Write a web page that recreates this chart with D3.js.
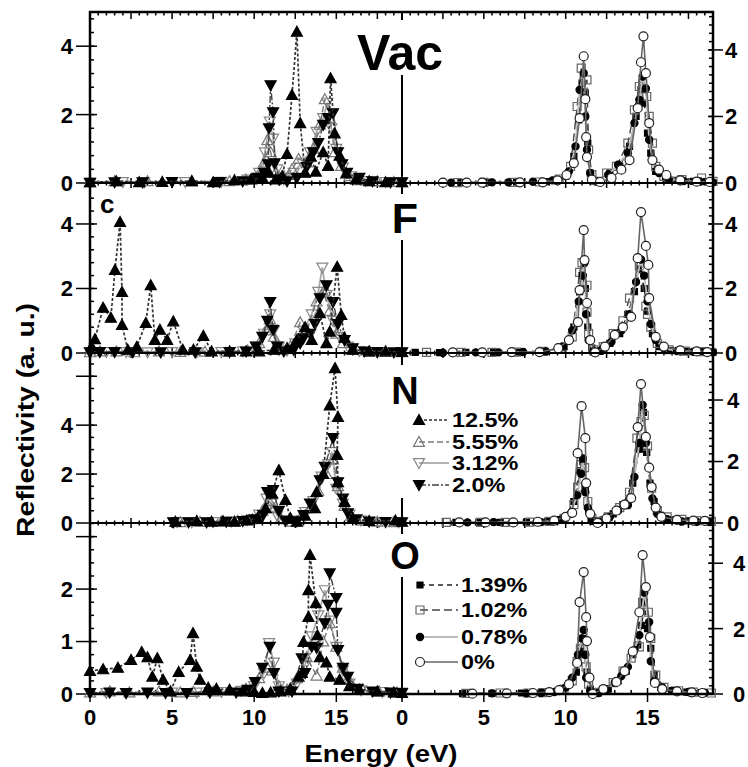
<!DOCTYPE html>
<html>
<head>
<meta charset="utf-8">
<script src="https://cdn.jsdelivr.net/npm/d3@7"></script>
<style>
  body { margin: 0; background: #fff; }
  svg text { font-family: "Liberation Sans", Arial, sans-serif; font-weight: bold; }
</style>
</head>
<body>
<div class="mainVis"></div>
<script>
// ---- data ----
var panelNames = ["Vac", "F", "N", "O"];
var leftLabels = ["12.5%", "5.55%", "3.12%", "2.0%"];
var rightLabels = ["1.39%", "1.02%", "0.78%", "0%"];
var energyTicks = [0, 5, 10, 15];
var leftMax = [5.0, 5.27, 6.95, 3.26];
var rightMax = [5.14, 5.27, 5.53, 5.23];
var leftTicks = [[0, 2, 4], [0, 2, 4], [0, 2, 4, 6], [0, 1, 2, 3]];
var leftTickLabels = [[0, 2, 4], [0, 2, 4], [0, 2, 4], [0, 1, 2]];
var rightTicks = [[0, 2, 4], [0, 2, 4], [0, 2, 4], [0, 2, 4]];

// Vac
var vac125 = [[0,0.02],[1.6,0.05],[3.0,0.02],[4.4,0.03],[6.2,0.06],[7.5,0.02],[8.8,0.08],[9.8,0.1],[10.5,0.15],[10.9,0.3],[11.3,0.1],[11.7,0.2],[12.0,0.85],[12.3,2.57],[12.6,4.42],[12.8,1.75],[13.1,0.3],[13.45,0.77],[13.75,0.33],[14.2,0.9],[14.5,0.5],[14.65,3.06],[14.9,1.45],[15.2,0.8],[15.6,0.28],[16.2,0.1],[17.0,0.05],[18.0,0.02],[19.0,0.02]];
var vac555 = [[0,0.02],[1.5,0.05],[3.5,0.05],[6.2,0.04],[8.5,0.05],[9.5,0.1],[10.2,0.2],[10.6,0.6],[10.8,1.25],[11.0,0.9],[11.3,0.3],[11.8,0.2],[12.3,0.4],[12.7,0.7],[13.2,0.6],[13.6,1.0],[14.0,1.7],[14.3,2.45],[14.6,1.9],[14.9,0.9],[15.3,0.5],[15.8,0.2],[16.5,0.08],[17.5,0.05],[18.5,0.03],[19.0,0.02]];
var vac312 = [[0,0.02],[2.0,0.03],[3.3,0.02],[5.8,0.03],[8.0,0.04],[9.6,0.1],[10.3,0.3],[10.65,0.9],[10.95,1.8],[11.15,1.3],[11.4,0.4],[11.8,0.1],[12.4,0.3],[12.9,0.6],[13.4,0.9],[13.8,1.5],[14.2,1.9],[14.45,2.35],[14.7,1.6],[15.0,1.0],[15.4,0.45],[15.9,0.2],[16.8,0.06],[18.0,0.03],[19.0,0.02]];
var vac20 = [[0,0],[1.5,0.02],[3.2,0.02],[5.0,0.03],[7.9,0.03],[9.3,0.05],[10.2,0.15],[10.6,0.3],[10.85,0.55],[10.9,1.6],[11.0,2.86],[11.15,2.07],[11.25,0.58],[11.55,0.1],[12.0,0.05],[12.6,0.15],[13.2,0.47],[13.6,0.9],[13.9,1.17],[14.2,1.7],[14.5,1.9],[14.8,2.04],[15.1,0.9],[15.35,0.55],[15.65,0.3],[16.4,0.15],[17.2,0.05],[18.3,0.02],[19.0,0.02]];
var vac139 = [[3.6,0.01],[5.3,0.02],[7.0,0.03],[8.8,0.04],[10.0,0.2],[10.5,0.8],[10.8,1.9],[11.0,3.0],[11.2,2.7],[11.35,1.2],[11.5,0.3],[11.9,0.05],[12.7,0.3],[13.3,0.5],[13.9,1.1],[14.3,2.0],[14.6,2.8],[14.8,2.4],[15.0,1.5],[15.2,0.9],[15.5,0.35],[16.1,0.15],[16.8,0.08],[17.8,0.05],[18.6,0.04]];
var vac102 = [[3.4,0.01],[5.0,0.02],[6.8,0.02],[8.4,0.03],[9.6,0.12],[10.3,0.5],[10.7,2.3],[10.95,3.45],[11.1,2.7],[11.3,3.1],[11.4,1.0],[11.6,0.25],[12.0,0.05],[12.5,0.3],[13.1,0.5],[13.8,1.2],[14.2,2.2],[14.5,2.9],[14.7,3.0],[14.95,2.6],[15.1,2.0],[15.3,1.2],[15.5,0.5],[16.0,0.2],[17.1,0.1],[18.3,0.15],[19.0,0.05]];
var vac078 = [[3.0,0.01],[5.5,0.02],[6.5,0.02],[8.0,0.04],[9.2,0.08],[10.2,0.35],[10.6,1.1],[10.85,2.8],[11.1,3.3],[11.2,2.0],[11.3,1.0],[11.5,0.3],[12.0,0.05],[12.6,0.25],[13.2,0.55],[13.8,0.9],[14.2,1.8],[14.5,2.5],[14.7,3.2],[14.9,2.84],[15.1,1.3],[15.3,0.7],[15.7,0.3],[16.3,0.12],[17.2,0.06],[18.2,0.04],[19.0,0.02]];
var vac0 = [[2.5,0.01],[3.95,0.01],[4.9,0.01],[7.2,0.02],[8.6,0.02],[9.5,0.08],[10.05,0.24],[10.5,0.6],[10.85,1.95],[11.1,3.81],[11.2,2.52],[11.25,1.38],[11.3,0.78],[11.6,0.1],[12.1,0.03],[12.8,0.15],[13.4,0.4],[13.9,0.69],[14.4,2.25],[14.6,3.63],[14.75,4.41],[14.9,3.3],[15.1,1.8],[15.3,0.69],[15.7,0.4],[16.15,0.24],[17.0,0.08],[18.0,0.04],[18.8,0.03]];

// F
var f125 = [[0.1,0.2],[0.3,0.43],[0.8,1.4],[1.27,1.09],[1.52,2.57],[1.83,4.06],[1.95,1.89],[1.95,0.87],[2.3,0.1],[2.85,0.19],[3.4,0.93],[3.7,2.1],[3.95,0.4],[4.26,0.72],[4.7,0.4],[5.07,0.98],[5.65,0.1],[6.3,0.1],[6.9,0.53],[7.4,0.05],[8.5,0.05],[9.5,0.05],[10.3,0.05],[11.2,0.1],[12.0,0.15],[12.6,0.4],[13.1,0.8],[13.5,0.4],[14.0,1.23],[14.4,0.3],[14.6,0.66],[15.05,2.67],[15.3,1.18],[15.5,0.47],[16.0,0.1],[17.0,0.05],[18.0,0.05],[19.0,0.03]];
var f555 = [[0,0.02],[0.6,0.05],[1.6,0.05],[2.7,0.02],[4.2,0.05],[5.5,0.03],[7.0,0.04],[8.5,0.04],[9.6,0.08],[10.3,0.3],[10.7,0.7],[10.95,1.05],[11.2,0.5],[11.6,0.1],[12.2,0.2],[12.8,0.95],[13.2,0.7],[13.8,1.6],[14.2,1.9],[14.6,1.3],[15.0,0.6],[15.4,0.3],[16.0,0.1],[17.0,0.04],[18.0,0.03],[19.0,0.02]];
var f312 = [[0,0.02],[1.0,0.03],[2.2,0.03],[3.5,0.02],[5.0,0.03],[6.5,0.02],[8.0,0.03],[9.3,0.05],[10.2,0.2],[10.6,0.6],[10.97,1.2],[11.2,0.7],[11.5,0.2],[12.0,0.08],[12.5,0.3],[13.0,0.7],[13.5,1.2],[13.9,1.9],[14.15,2.65],[14.4,1.8],[14.8,1.0],[15.2,0.5],[15.7,0.2],[16.4,0.06],[17.5,0.03],[19.0,0.02]];
var f20 = [[0,0.02],[0.6,0.03],[1.5,0.03],[2.6,0.02],[4.3,0.02],[6.4,0.02],[8.5,0.03],[9.5,0.05],[10.1,0.2],[10.5,0.5],[10.8,1.0],[10.97,1.58],[11.15,0.72],[11.4,0.2],[11.8,0.05],[12.4,0.1],[12.8,0.3],[13.0,0.46],[13.4,0.6],[13.7,0.9],[14.0,1.7],[14.4,2.1],[14.8,1.58],[15.1,0.9],[15.5,0.4],[16.0,0.15],[16.7,0.05],[17.5,0.03],[18.5,0.02],[19.0,0.02]];
var f139 = [[0.8,0.02],[2.3,0.01],[3.9,0.02],[5.6,0.02],[7.2,0.03],[8.7,0.04],[9.9,0.2],[10.5,0.8],[10.85,1.9],[11.0,2.4],[11.2,2.0],[11.35,0.8],[11.6,0.15],[12.1,0.05],[12.7,0.3],[13.3,0.6],[13.8,1.2],[14.2,1.9],[14.55,2.6],[14.8,2.0],[15.0,1.3],[15.3,0.6],[15.7,0.2],[16.4,0.08],[17.4,0.05],[18.4,0.04],[19.0,0.03]];
var f102 = [[1.5,0.02],[3.6,0.02],[5.5,0.02],[7.0,0.03],[8.6,0.05],[9.7,0.15],[10.4,0.5],[10.85,2.5],[11.0,2.8],[11.3,2.1],[11.3,1.27],[11.4,0.6],[11.7,0.1],[12.3,0.2],[12.9,0.6],[13.5,1.0],[13.9,1.7],[14.5,2.7],[14.9,1.45],[15.0,1.2],[15.2,0.8],[15.6,0.3],[16.3,0.1],[17.3,0.06],[18.3,0.04]];
var f078 = [[2.5,0.01],[4.5,0.02],[5.9,0.02],[7.4,0.03],[8.8,0.05],[9.8,0.2],[10.4,0.7],[10.8,1.6],[11.05,2.4],[11.15,2.8],[11.25,1.2],[11.4,0.4],[11.7,0.05],[12.2,0.1],[12.8,0.35],[13.4,0.7],[13.9,1.2],[14.3,2.2],[14.6,2.9],[14.8,2.4],[15.0,1.6],[15.2,0.9],[15.5,0.4],[16.0,0.15],[16.8,0.06],[17.8,0.04],[19.0,0.02]];
var f0 = [[3.1,0.02],[4.9,0.02],[6.7,0.03],[8.4,0.03],[9.55,0.15],[10.2,0.4],[10.75,0.96],[10.85,1.95],[11.1,3.81],[11.15,2.88],[11.3,1.55],[11.5,0.4],[11.8,0.02],[12.4,0.2],[13.0,0.56],[13.5,0.8],[14.0,1.12],[14.4,2.94],[14.6,4.37],[14.9,3.32],[15.05,2.73],[15.1,1.7],[15.5,0.5],[16.0,0.2],[17.0,0.08],[18.0,0.05],[18.65,0.03]];

// N
var n125 = [[5.2,0.05],[6.5,0.08],[7.4,0.05],[8.1,0.07],[8.8,0.05],[9.55,0.1],[10.2,0.2],[10.7,0.6],[11.1,1.2],[11.5,2.16],[11.9,0.94],[12.2,0.2],[12.6,0.05],[13.1,0.3],[13.7,0.6],[13.8,1.27],[14.2,2.0],[14.6,4.8],[14.92,6.33],[15.1,4.33],[15.05,2.78],[15.1,1.67],[15.5,0.86],[16.0,0.2],[17.0,0.08],[18.6,0.1],[19.0,0.05]];
var n555 = [[5.5,0.03],[6.7,0.04],[8.0,0.05],[9.0,0.08],[9.9,0.15],[10.5,0.5],[10.9,0.9],[11.2,0.6],[11.6,0.15],[12.2,0.05],[12.8,0.2],[13.4,0.6],[13.9,1.3],[14.4,2.0],[14.8,2.6],[15.1,1.5],[15.5,0.7],[15.9,0.3],[16.6,0.1],[17.5,0.05],[18.5,0.03]];
var n312 = [[5.3,0.04],[6.2,0.03],[7.5,0.04],[8.6,0.06],[9.6,0.12],[10.3,0.35],[10.75,1.0],[11.05,0.8],[11.4,0.3],[11.9,0.07],[12.5,0.1],[13.1,0.45],[13.6,0.9],[14.1,1.9],[14.5,2.4],[14.75,2.9],[15.0,1.4],[15.4,0.8],[15.8,0.35],[16.5,0.1],[17.6,0.04],[18.8,0.03]];
var n20 = [[5.07,0.03],[6.0,0.03],[7.1,0.03],[8.3,0.05],[9.3,0.08],[10.0,0.15],[10.55,0.33],[10.8,1.27],[11.15,1.35],[11.5,0.5],[11.9,0.1],[12.6,0.07],[13.0,0.33],[13.4,0.8],[14.0,1.75],[14.3,2.3],[14.8,3.47],[15.1,1.67],[15.4,1.0],[15.7,0.4],[16.2,0.15],[17.0,0.06],[18.0,0.04],[19.0,0.03]];
var n139 = [[3.3,0.02],[4.7,0.03],[6.0,0.02],[7.6,0.03],[8.9,0.05],[9.9,0.15],[10.5,0.7],[10.85,1.7],[11.05,2.0],[11.2,1.2],[11.4,0.4],[11.7,0.05],[12.3,0.1],[12.9,0.3],[13.5,0.6],[14.1,1.3],[14.5,2.4],[14.75,3.6],[14.95,2.3],[15.15,1.3],[15.4,0.7],[15.8,0.25],[16.5,0.1],[17.5,0.07],[18.7,0.04]];
var n102 = [[2.7,0.02],[4.8,0.02],[6.3,0.02],[7.8,0.03],[9.0,0.05],[9.9,0.15],[10.5,0.6],[10.73,1.17],[10.95,1.9],[11.15,1.8],[11.35,0.7],[11.6,0.15],[12.0,0.05],[12.6,0.2],[13.3,0.5],[13.9,1.0],[14.35,2.76],[14.6,3.3],[14.8,3.5],[15.0,2.5],[15.25,1.13],[15.6,0.4],[16.2,0.2],[17.1,0.12],[18.0,0.08],[18.9,0.05]];
var n078 = [[4.0,0.02],[5.6,0.03],[6.8,0.02],[8.5,0.03],[9.6,0.1],[10.3,0.3],[10.7,0.9],[10.95,1.6],[11.05,2.1],[11.2,1.0],[11.35,0.5],[11.6,0.1],[12.1,0.03],[12.7,0.2],[13.2,0.4],[13.8,0.58],[14.2,1.5],[14.5,2.6],[14.7,3.84],[14.9,2.6],[15.1,1.8],[15.3,0.8],[15.6,0.3],[16.2,0.12],[17.1,0.05],[18.0,0.04],[18.8,0.03]];
var n0 = [[3.5,0.02],[5.1,0.02],[6.8,0.02],[8.3,0.04],[9.3,0.08],[10.0,0.2],[10.4,0.33],[10.73,2.27],[10.97,3.8],[11.2,2.76],[11.25,1.3],[11.5,0.3],[11.95,0.0],[12.5,0.15],[13.1,0.4],[13.6,0.6],[14.0,0.81],[14.4,3.12],[14.6,4.52],[14.9,2.8],[15.1,1.8],[15.25,1.17],[15.5,0.5],[15.85,0.2],[16.8,0.1],[17.8,0.08],[18.5,0.07]];

// O
var o125 = [[0,0.44],[0.8,0.47],[1.7,0.5],[2.5,0.65],[3.15,0.8],[3.5,0.7],[3.8,0.33],[4.1,0.68],[4.45,0.27],[4.9,0.05],[5.4,0.42],[6.1,0.65],[6.27,1.16],[6.5,0.52],[6.7,0.27],[7.2,0.12],[7.7,0.1],[8.5,0.08],[9.3,0.05],[10.0,0.04],[10.5,0.02],[11.0,0.03],[11.6,0.05],[12.2,0.1],[12.7,0.33],[12.9,0.4],[13.0,0.99],[13.3,1.47],[13.3,1.98],[13.4,2.65],[13.75,1.73],[13.85,1.12],[14.0,0.7],[14.4,0.6],[14.6,0.33],[15.2,0.27],[15.8,0.15],[16.4,0.08],[17.5,0.05],[18.5,0.03],[19.0,0.02]];
var o555 = [[0,0.03],[1.2,0.05],[2.4,0.03],[4.2,0.05],[5.5,0.03],[6.3,0.04],[7.5,0.05],[8.5,0.06],[9.5,0.1],[10.3,0.3],[10.8,0.5],[11.1,0.45],[11.5,0.15],[12.0,0.08],[12.6,0.3],[13.2,0.7],[13.8,0.35],[14.2,1.0],[14.6,1.35],[15.0,0.9],[15.4,0.5],[15.9,0.2],[16.6,0.08],[17.6,0.05],[18.7,0.03]];
var o312 = [[0,0.02],[1.0,0.02],[2.2,0.02],[3.5,0.02],[5.0,0.03],[6.5,0.03],[8.0,0.04],[9.2,0.06],[10.0,0.15],[10.6,0.4],[10.9,0.97],[11.2,0.6],[11.5,0.15],[12.1,0.05],[12.6,0.2],[13.1,0.55],[13.5,1.1],[13.9,1.5],[14.3,1.98],[14.6,1.4],[15.0,0.9],[15.4,0.45],[15.8,0.2],[16.5,0.07],[17.8,0.04],[19.0,0.03]];
var o20 = [[0,0.02],[1.2,0.03],[2.2,0.02],[3.5,0.03],[4.6,0.02],[5.9,0.02],[7.3,0.03],[8.9,0.03],[9.6,0.08],[10.05,0.23],[10.5,0.5],[10.95,0.9],[11.2,0.4],[11.5,0.05],[12.3,0.05],[12.9,0.68],[13.1,0.4],[13.5,0.9],[13.8,0.88],[14.3,1.35],[14.5,1.7],[14.6,2.3],[15.0,1.83],[15.0,1.55],[15.1,0.84],[15.4,0.5],[15.7,0.33],[16.3,0.1],[17.2,0.05],[18.3,0.03],[19.0,0.02]];
var o139 = [[3.7,0.01],[5.5,0.02],[7.3,0.03],[8.5,0.04],[9.5,0.08],[10.2,0.3],[10.65,0.67],[10.9,1.3],[11.05,1.7],[11.2,1.2],[11.3,0.67],[11.5,0.15],[12.0,0.03],[12.6,0.15],[13.2,0.4],[13.7,0.7],[14.1,1.2],[14.4,1.5],[14.65,2.1],[14.8,2.8],[15.0,2.0],[15.2,1.4],[15.4,0.6],[15.8,0.2],[16.5,0.1],[17.4,0.06],[18.3,0.04]];
var o102 = [[3.9,0.02],[6.0,0.03],[7.7,0.03],[8.6,0.04],[9.9,0.15],[10.4,0.4],[10.7,1.0],[10.9,1.4],[11.0,1.6],[11.25,0.83],[11.4,0.3],[11.7,0.05],[12.3,0.12],[12.9,0.35],[13.5,0.7],[14.0,1.1],[14.5,1.44],[14.7,2.8],[15.05,2.5],[15.2,1.7],[15.5,0.58],[16.0,0.2],[16.9,0.1],[17.8,0.06],[18.9,0.03]];
var o078 = [[5.5,0.02],[7.6,0.02],[8.5,0.03],[9.3,0.06],[10.0,0.2],[10.4,0.5],[10.75,1.2],[11.0,1.7],[11.1,1.96],[11.2,1.2],[11.25,0.5],[11.5,0.1],[12.0,0.03],[12.5,0.15],[13.0,0.35],[13.4,0.55],[13.8,0.83],[14.2,1.35],[14.5,1.8],[14.8,3.1],[15.1,2.2],[15.2,1.0],[15.4,0.4],[15.9,0.2],[16.5,0.1],[17.5,0.06],[18.5,0.04]];
var o0 = [[4.3,0.01],[6.4,0.02],[8.0,0.03],[9.0,0.06],[9.6,0.12],[10.2,0.3],[10.7,0.95],[10.85,2.81],[11.1,3.73],[11.25,2.35],[11.3,1.62],[11.45,0.5],[11.65,0.0],[12.3,0.15],[13.1,0.37],[13.6,0.7],[14.1,1.3],[14.5,2.5],[14.7,4.25],[14.9,3.27],[15.15,1.74],[15.45,0.34],[15.9,0.15],[16.8,0.08],[17.7,0.05],[18.35,0.03]];

var leftData = [
    [vac125, vac555, vac312, vac20],
    [f125, f555, f312, f20],
    [n125, n555, n312, n20],
    [o125, o555, o312, o20]
]
var rightData = [
    [vac139, vac102, vac078, vac0],
    [f139, f102, f078, f0],
    [n139, n102, n078, n0],
    [o139, o102, o078, o0]
]

// ---- styles / layout ----
var leftStyle = [
    { sym: "up",   r: 5.5, fill: "#000", stroke: "#000", line: "#333", dash: "3,2", lw: 1.7 },
    { sym: "up",   r: 5.5, fill: "none", stroke: "#777", line: "#777", dash: "6,3", lw: 1.4 },
    { sym: "down", r: 5.5, fill: "none", stroke: "#888", line: "#aaa", dash: null, lw: 1.8 },
    { sym: "down", r: 5.5, fill: "#000", stroke: "#000", line: "#444", dash: "7,2,2,2", lw: 1.4 }
]
var rightStyle = [
    { sym: "sq",   r: 3,   fill: "#000", stroke: "#000", line: "#222", dash: "5,4", lw: 1.4 },
    { sym: "sq",   r: 4,   fill: "none", stroke: "#666", line: "#444", dash: "8,4", lw: 1.4 },
    { sym: "circ", r: 3.6, fill: "#000", stroke: "#000", line: "#bbb", dash: null, lw: 1.8 },
    { sym: "circ", r: 4.5, fill: "#fff", stroke: "#222", line: "#666", dash: null, lw: 1.6 }
]
var leftOrder = [2, 1, 3, 0];
var rightOrder = [0, 1, 2, 3];

var panelTop = [12, 183, 353, 523];
var panelBot = [183, 353, 523, 694];
var leftMinorStep = [0.4, 0.4, 0.5, 0.25];
var rightLabelX = [725, 725, 727, 733];

var W = 748, H = 767;
var X0 = 90, XM = 402, X1 = 713;

var xL = d3.scaleLinear().domain([0, 19]).range([X0, XM]);
var xR = d3.scaleLinear().domain([0, 19]).range([XM, X1]);

var svg = d3.select(".mainVis").append("svg")
    .attr("width", W)
    .attr("height", H)

svg.append("rect").attr("width", W).attr("height", H).attr("fill", "white");

function symPath(s, r) {
    if (s === "up") return "M0," + (-r) + "L" + r + "," + (r * 0.8) + "L" + (-r) + "," + (r * 0.8) + "Z";
    if (s === "down") return "M0," + r + "L" + r + "," + (-r * 0.8) + "L" + (-r) + "," + (-r * 0.8) + "Z";
    if (s === "sq") return "M" + (-r) + "," + (-r) + "H" + r + "V" + r + "H" + (-r) + "Z";
    return "M" + r + ",0A" + r + "," + r + " 0 1,1 " + (-r) + ",0A" + r + "," + r + " 0 1,1 " + r + ",0Z";
}

function range(a, b, step) {
    var out = [];
    for (var v = a; v <= b + 1e-9; v += step) out.push(+v.toFixed(4));
    return out;
}

var ticks = svg.append("g").attr("stroke", "#000").attr("stroke-width", 1.5);

// horizontal axes (top frame, panel separators, bottom)
[xL, xR].forEach(function(x) {
    range(0, 19, 0.5).forEach(function(e) {
        var major = Math.abs(e / 2.5 - Math.round(e / 2.5)) < 1e-6;
        var px = x(e);
        // top frame, pointing down
        ticks.append("line").attr("x1", px).attr("x2", px)
            .attr("y1", panelTop[0]).attr("y2", panelTop[0] + (major ? 7 : 3.5));
        // inner separators
        for (var p = 0; p < 3; p++) {
            var l = major ? 5 : 2.5;
            ticks.append("line").attr("x1", px).attr("x2", px)
                .attr("y1", panelBot[p] - l).attr("y2", panelBot[p] + l);
        }
    })
    range(0, 19, 1).forEach(function(e) {
        var major = e % 5 === 0;
        var px = x(e);
        ticks.append("line").attr("x1", px).attr("x2", px)
            .attr("y1", panelBot[3] - (major ? 6 : 4)).attr("y2", panelBot[3] + (major ? 8 : 0));
    })
    svg.append("g").selectAll("text")
        .data(energyTicks)
        .enter()
        .append("text")
        .attr("x", function(d) { return x(d); })
        .attr("y", 725)
        .attr("text-anchor", "middle")
        .style("font-size", "22px")
        .text(function(d) { return d; });
});

var boxes = [
    { x: 352, y: 20, w: 96, h: 55 },
    { x: 390, y: 194, w: 32, h: 46 },
    { x: 388, y: 365, w: 150, h: 133 },
    { x: 388, y: 534, w: 36, h: 43 }
]
var labelPos = [
    { x: 400, y: 70, size: 50 },
    { x: 405, y: 233, size: 43 },
    { x: 405, y: 404, size: 38 },
    { x: 405, y: 569, size: 38 }
]

panelNames.forEach(function(name, p) {
    var yl = d3.scaleLinear().domain([0, leftMax[p]]).range([panelBot[p], panelTop[p]]);
    var yr = d3.scaleLinear().domain([0, rightMax[p]]).range([panelBot[p], panelTop[p]]);

    // left y ticks
    range(0, leftMax[p], leftMinorStep[p]).forEach(function(v) {
        ticks.append("line").attr("x1", X0).attr("x2", X0 + 4).attr("y1", yl(v)).attr("y2", yl(v));
    })
    leftTicks[p].forEach(function(v) {
        ticks.append("line").attr("x1", X0 - 14).attr("x2", X0 + 7).attr("y1", yl(v)).attr("y2", yl(v));
    })
    svg.append("g").selectAll("text")
        .data(leftTickLabels[p])
        .enter()
        .append("text")
        .attr("x", 73)
        .attr("y", function(d) { return yl(d); })
        .attr("dy", "0.36em")
        .attr("text-anchor", "end")
        .style("font-size", "22px")
        .text(function(d) { return d; });

    // right y ticks
    range(0, rightMax[p], 0.25).forEach(function(v) {
        ticks.append("line").attr("x1", X1 - 4).attr("x2", X1).attr("y1", yr(v)).attr("y2", yr(v));
    })
    rightTicks[p].forEach(function(v) {
        ticks.append("line").attr("x1", X1 - 5).attr("x2", X1 + 10).attr("y1", yr(v)).attr("y2", yr(v));
    })
    svg.append("g").selectAll("text")
        .data(rightTicks[p])
        .enter()
        .append("text")
        .attr("x", rightLabelX[p])
        .attr("y", function(d) { return yr(d); })
        .attr("dy", "0.36em")
        .style("font-size", "22px")
        .text(function(d) { return d; });

    // divider between the two energy ranges
    svg.append("line")
        .attr("x1", XM).attr("x2", XM)
        .attr("y1", panelTop[p]).attr("y2", panelBot[p])
        .attr("stroke", "#000").attr("stroke-width", 2);

    svg.append("clipPath").attr("id", "clipL" + p).append("rect")
        .attr("x", X0).attr("y", panelTop[p] - 8).attr("width", XM - X0).attr("height", panelBot[p] - panelTop[p] + 8);
    svg.append("clipPath").attr("id", "clipR" + p).append("rect")
        .attr("x", XM).attr("y", panelTop[p] - 8).attr("width", X1 - XM).attr("height", panelBot[p] - panelTop[p] + 8);

    function drawSeries(data, st, x, y, clip) {
        var g = svg.append("g");
        var line = d3.line()
            .x(function(d) { return x(d[0]); })
            .y(function(d) { return y(d[1]); })
        g.append("path")
            .datum(data)
            .attr("clip-path", "url(#" + clip + ")")
            .attr("d", line)
            .attr("fill", "none")
            .attr("stroke", st.line)
            .attr("stroke-width", st.lw)
            .attr("stroke-dasharray", st.dash);
        g.selectAll("path.pt")
            .data(data)
            .enter()
            .append("path")
            .attr("class", "pt")
            .attr("transform", function(d) { return "translate(" + x(d[0]) + "," + y(d[1]) + ")"; })
            .attr("d", symPath(st.sym, st.r))
            .attr("fill", st.fill)
            .attr("stroke", st.stroke)
            .attr("stroke-width", 1.2);
    }

    leftOrder.forEach(function(i) {
        drawSeries(leftData[p][i], leftStyle[i], xL, yl, "clipL" + p);
    })
    rightOrder.forEach(function(i) {
        drawSeries(rightData[p][i], rightStyle[i], xR, yr, "clipR" + p);
    })

    // panel label with white backing
    var b = boxes[p];
    svg.append("rect").attr("x", b.x).attr("y", b.y).attr("width", b.w).attr("height", b.h).attr("fill", "white");
    svg.append("text")
        .attr("x", labelPos[p].x)
        .attr("y", labelPos[p].y)
        .attr("text-anchor", "middle")
        .style("font-size", labelPos[p].size + "px")
        .text(name);

    // separator line
    if (p < 3) {
        svg.append("line")
            .attr("x1", X0).attr("x2", X1)
            .attr("y1", panelBot[p]).attr("y2", panelBot[p])
            .attr("stroke", "#000").attr("stroke-width", 2);
    }
});

// legends (text a little wider than tall, like the original)
function drawLegend(labels, styles, mx, lineEnd, tx, rows) {
    labels.forEach(function(lab, i) {
        var st = styles[i];
        svg.append("line")
            .attr("x1", mx).attr("x2", lineEnd)
            .attr("y1", rows[i]).attr("y2", rows[i])
            .attr("stroke", st.line)
            .attr("stroke-width", st.lw)
            .attr("stroke-dasharray", st.dash);
        svg.append("path")
            .attr("transform", "translate(" + mx + "," + rows[i] + ")")
            .attr("d", symPath(st.sym, st.r))
            .attr("fill", st.fill)
            .attr("stroke", st.stroke)
            .attr("stroke-width", 1.2);
        var t = svg.append("text")
            .attr("x", tx)
            .attr("y", rows[i])
            .attr("dy", "0.36em")
            .style("font-size", "20px")
            .text(lab);
        var len = t.node().getComputedTextLength();
        t.attr("textLength", len * 1.17).attr("lengthAdjust", "spacingAndGlyphs");
    })
}
drawLegend(leftLabels, leftStyle, 419, 449, 452, [420, 442, 463, 485]);
drawLegend(rightLabels, rightStyle, 420, 458, 461, [585, 610, 637, 662]);

// panel letter
svg.append("text").attr("x", 100).attr("y", 213).style("font-size", "26px").text("c");

// frame
svg.append("rect")
    .attr("x", X0).attr("y", panelTop[0])
    .attr("width", X1 - X0).attr("height", panelBot[3] - panelTop[0])
    .attr("fill", "none").attr("stroke", "#000").attr("stroke-width", 2.5);

// axis titles
svg.append("text")
    .attr("transform", "translate(34,420) rotate(-90)")
    .attr("text-anchor", "middle")
    .attr("textLength", 234)
    .attr("lengthAdjust", "spacingAndGlyphs")
    .style("font-size", "24px")
    .text("Reflectivity (a. u.)");

svg.append("text")
    .attr("x", 381)
    .attr("y", 762)
    .attr("text-anchor", "middle")
    .attr("textLength", 153)
    .attr("lengthAdjust", "spacingAndGlyphs")
    .style("font-size", "23px")
    .text("Energy (eV)");
</script>
</body>
</html>
